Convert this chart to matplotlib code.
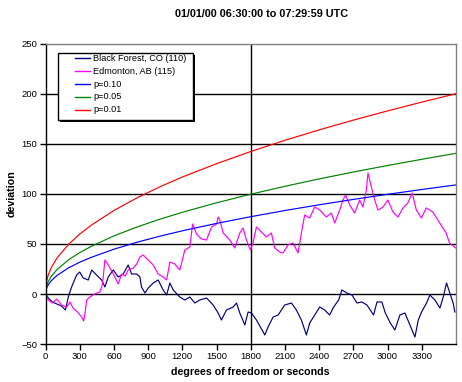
"""
Random-walk deviation chart for two stations, 01/01/00 06:30 - 07:29:59 UTC,
with the p=0.10 / 0.05 / 0.01 significance envelopes.
"""

import matplotlib
matplotlib.use('Agg')
import matplotlib.pyplot as plt
from matplotlib.patches import Rectangle

# ---- data ----
# Black Forest, CO (110)
bf_sec = [0, 25, 60, 100, 140, 175, 200, 229, 273, 300, 331, 375, 405, 448, 492, 521,
          550, 594, 638, 682, 725, 755, 799, 828, 842, 872, 901, 945, 988, 1032, 1062,
          1091, 1120, 1178, 1222, 1266, 1310, 1353, 1412, 1470, 1514, 1543, 1587, 1646,
          1675, 1704, 1748, 1777, 1806, 1850, 1914, 1923, 1952, 1996, 2040, 2098, 2157,
          2200, 2244, 2288, 2317, 2361, 2405, 2448, 2492, 2527, 2571, 2600, 2644, 2688,
          2731, 2775, 2819, 2877, 2907, 2950, 2980, 3024, 3064, 3108, 3152, 3196, 3240,
          3269, 3298, 3342, 3371, 3415, 3459, 3488, 3517, 3546, 3575, 3590]
bf_dev = [0, -4, -8, -10, -12, -16, -3, 7, 19, 22, 16, 14, 24, 19, 14, 7,
          17, 24, 17, 20, 29, 20, 20, 17, 7, 1, 6, 11, 14, 4, -1,
          11, 4, -3, -6, -3, -9, -6, -4, -11, -19, -26, -16, -13,
          -9, -19, -31, -18, -19, -26, -39, -41, -33, -23, -21, -11, -9,
          -16, -26, -41, -29, -21, -13, -16, -21, -13, -6, 4, 1, -1,
          -9, -8, -11, -21, -8, -8, -19, -29, -36, -21, -19, -31, -43,
          -26, -18, -9, -1, -6, -14, -3, 11, 1, -9, -18]

# Edmonton, AB (115)
ed_sec = [0, 25, 60, 100, 140, 186, 215, 241, 280, 317, 335, 347, 361, 390, 430, 477,
          500, 521, 545, 565, 609, 638, 667, 700, 725, 769, 800, 828, 857, 901, 945,
          988, 1032, 1062, 1091, 1134, 1178, 1222, 1266, 1290, 1325, 1368, 1412, 1456,
          1500, 1515, 1529, 1558, 1616, 1660, 1704, 1733, 1762, 1797, 1820, 1850, 1894,
          1937, 1981, 2010, 2054, 2083, 2127, 2171, 2215, 2244, 2273, 2317, 2361, 2405,
          2463, 2507, 2536, 2580, 2609, 2632, 2668, 2711, 2755, 2784, 2814, 2828, 2858,
          2887, 2916, 2960, 3003, 3047, 3091, 3135, 3178, 3216, 3252, 3296, 3339, 3397,
          3441, 3485, 3514, 3543, 3587, 3599]
ed_dev = [0, -6, -9, -5, -11, -13, -8, -14, -18, -23, -27, -19, -6, -3, 0, 2,
          10, 34, 30, 26, 17, 10, 20, 18, 24, 26, 30, 37, 39, 34, 29,
          20, 17, 14, 32, 30, 24, 44, 47, 70, 60, 55, 54, 67,
          70, 77, 74, 61, 54, 46, 61, 66, 54, 44, 51, 67, 62,
          57, 61, 46, 42, 41, 49, 51, 41, 61, 79, 76, 87, 84,
          77, 81, 71, 84, 94, 99, 89, 81, 94, 87, 104, 121, 107,
          94, 84, 87, 94, 82, 77, 86, 91, 101, 84, 76, 86, 82,
          74, 66, 61, 51, 47, 46]

# significance envelopes
p_sec = [0, 10, 25, 50, 100, 200, 300, 400, 600, 800, 1000, 1200, 1500, 1800,
         2100, 2400, 2700, 3000, 3300, 3600]
p10_dev = [0, 6.0, 9.4, 13.2, 18.5, 26.0, 31.8, 36.6, 44.8, 51.7, 57.7, 63.2, 70.6,
           77.3, 83.5, 89.2, 94.6, 99.7, 104.5, 109.1]
p05_dev = [0, 8.3, 12.7, 17.5, 24.3, 34.0, 41.4, 47.6, 58.1, 66.9, 74.7, 81.7, 91.2,
           99.8, 107.7, 115.1, 122.0, 128.5, 134.7, 140.7]
p01_dev = [0, 13.2, 19.3, 26.2, 35.8, 49.4, 59.9, 68.7, 83.5, 96.0, 107.0, 117.0,
           130.3, 142.5, 153.7, 164.1, 173.9, 183.1, 191.9, 200.3]

series_labels = ['Black Forest, CO (110)', 'Edmonton, AB (115)',
                 'p=0.10', 'p=0.05', 'p=0.01']
series_colors = ['#000080', '#FF00FF', '#0000FF', '#008000', '#FF0000']

y_ticks = [-50, 0, 50, 100, 150, 200, 250]
x_ticks = [0, 300, 600, 900, 1200, 1500, 1800, 2100, 2400, 2700, 3000, 3300]


def main():
    plt.rcParams['font.family'] = ['Liberation Sans', 'DejaVu Sans']

    W, H = 462, 382
    fig = plt.figure(figsize=(W / 100, H / 100), dpi=100, facecolor='white')

    # plot area in pixels: x 45.5 -> 456, y 44 -> 344
    left, right, top, bottom = 45.5, 456.0, 44.0, 344.0
    ax = fig.add_axes([left / W, 1 - bottom / H, (right - left) / W, (bottom - top) / H])

    # horizontal gridlines + the 1800 s marker
    for yv in y_ticks[1:-1]:
        ax.axhline(yv, color='black', lw=1.0, zorder=1)
    ax.axvline(1800, color='black', lw=1.0, zorder=1)

    # the walks, then the envelopes
    all_x = [bf_sec, ed_sec, p_sec, p_sec, p_sec]
    all_y = [bf_dev, ed_dev, p10_dev, p05_dev, p01_dev]
    for xs, ys, c in zip(all_x, all_y, series_colors):
        ax.plot(xs, ys, color=c, lw=0.85, zorder=2)

    ax.set_xlim(0, 3600)
    ax.set_ylim(-50, 250)
    ax.set_xticks(x_ticks)
    ax.set_yticks(y_ticks)
    ax.tick_params(direction='out', length=4, width=1, colors='black', labelsize=6.8, pad=2)

    for s in ['left', 'bottom']:
        ax.spines[s].set_color('black')
        ax.spines[s].set_linewidth(1)
    for s in ['top', 'right']:
        ax.spines[s].set_color('#808080')
        ax.spines[s].set_linewidth(1)

    # legend box drawn by hand to match the Excel layout
    def ax_x(px):
        return (px - left) / (right - left)

    def ax_y(py):
        return (bottom - py) / (bottom - top)

    bx0, bx1, by0, by1 = 58, 193, 53, 120
    shadow = Rectangle((ax_x(bx0 + 2), ax_y(by1 + 2)), ax_x(bx1) - ax_x(bx0), ax_y(by0) - ax_y(by1),
                       transform=ax.transAxes, facecolor='black', edgecolor='none', zorder=5)
    box = Rectangle((ax_x(bx0), ax_y(by1)), ax_x(bx1) - ax_x(bx0), ax_y(by0) - ax_y(by1),
                    transform=ax.transAxes, facecolor='white', edgecolor='black', lw=1, zorder=6)
    ax.add_patch(shadow)
    ax.add_patch(box)
    for i, (lab, c) in enumerate(zip(series_labels, series_colors)):
        yy = ax_y(58.3 + i * 12.9)
        ax.plot([ax_x(75), ax_x(90)], [yy, yy], color=c, lw=1.0, transform=ax.transAxes,
                zorder=7, clip_on=False)
        ax.text(ax_x(93), yy, lab, transform=ax.transAxes, fontsize=6.6, va='center',
                ha='left', zorder=7)

    # titles
    fig.text(262 / W, 1 - 14 / H, '01/01/00 06:30:00 to 07:29:59 UTC', fontsize=7.8,
             fontweight='bold', ha='center', va='center')
    fig.text(250 / W, 1 - 372 / H, 'degrees of freedom or seconds', fontsize=7.7,
             fontweight='bold', ha='center', va='center')
    fig.text(12 / W, 1 - 194 / H, 'deviation', fontsize=7.7, fontweight='bold',
             rotation=90, ha='center', va='center')

    fig.savefig('out.png', dpi=100, facecolor='white')


if __name__ == '__main__':
    main()
